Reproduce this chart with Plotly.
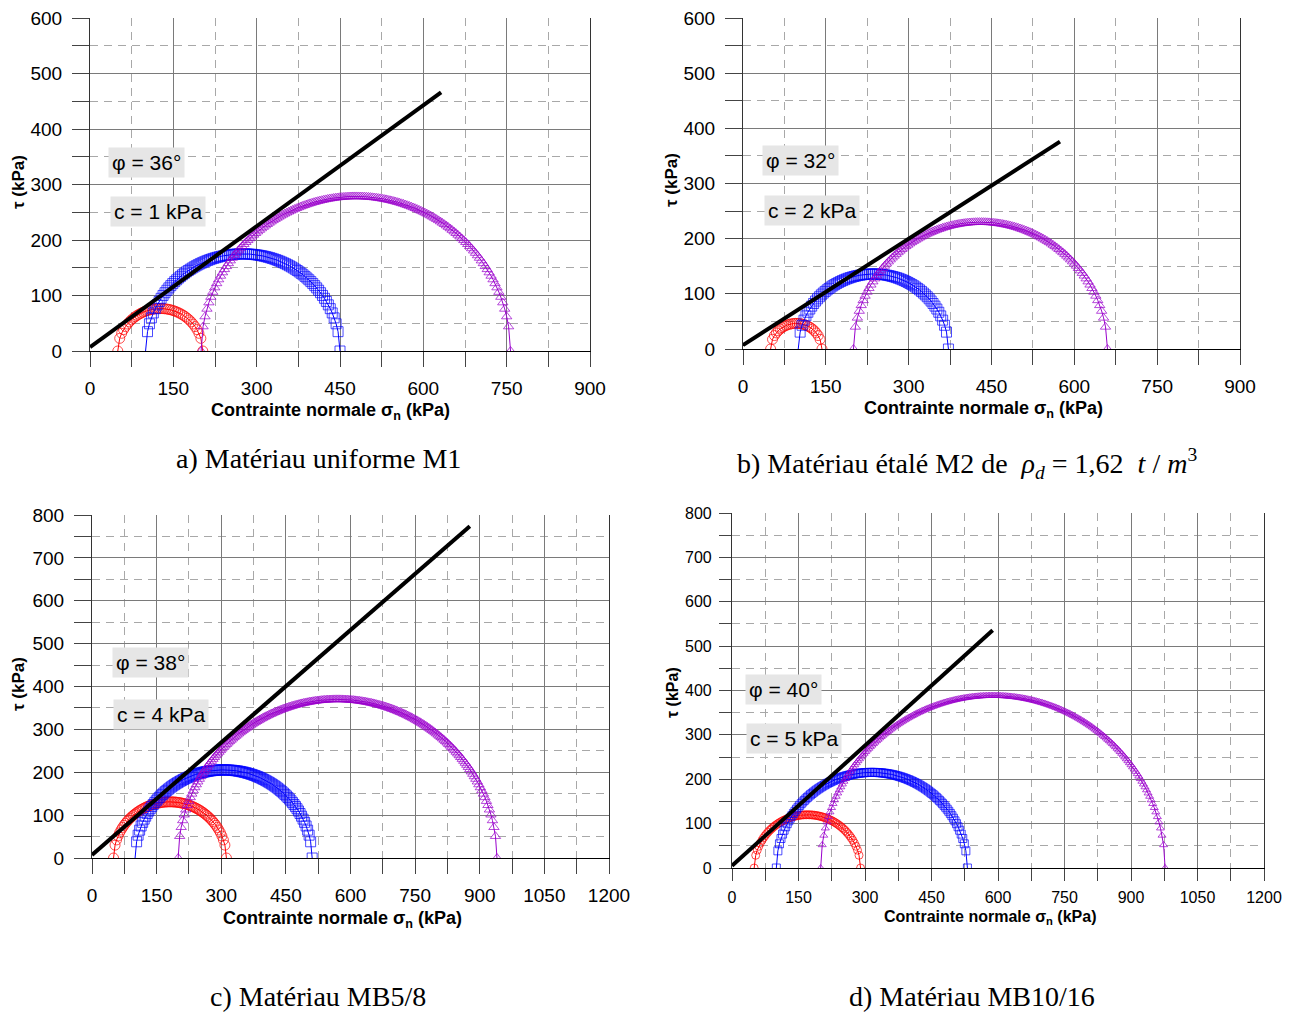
import numpy as np
import plotly.graph_objects as go

# page body has an 8 px margin: the figure is drawn from (8, 8) of the window
OFF = 8
W, H = 1298 - OFF, 1012 - OFF

# ---------------- data ----------------
# Mohr circles: minor / major principal stresses (kPa) for the three tests
sigma3_a = [50, 100, 200]
sigma1_a = [203, 450, 757]
sigma3_b = [50, 100, 200]
sigma1_b = [143, 372, 660]
sigma3_c = [50, 100, 200]
sigma1_c = [312, 511, 940]
sigma3_d = [50, 100, 200]
sigma1_d = [290, 531, 977]

# Coulomb envelope endpoints (sigma_n, tau) in kPa
env_x_a = [0, 632]
env_y_a = [7, 466]
env_x_b = [0, 574]
env_y_b = [7, 376]
env_x_c = [0, 877]
env_y_c = [7, 774]
env_x_d = [0, 588]
env_y_d = [5, 536]

phi_labels = ["φ = 36°", "φ = 32°", "φ = 38°", "φ = 40°"]
c_labels = ["c = 1 kPa", "c = 2 kPa", "c = 4 kPa", "c = 5 kPa"]
captions = [
    "a) Matériau uniforme M1",
    "b) Matériau étalé M2 de  <i>ρ<sub>d</sub></i> = 1,62  <i>t</i> / <i>m</i><sup>3</sup>",
    "c) Matériau MB5/8",
    "d) Matériau MB10/16",
]
x_ranges = [[0, 900], [0, 900], [0, 1200], [0, 1200]]
y_ranges = [[0, 600], [0, 600], [0, 800], [0, 800]]

# ---------------- styling ----------------
colors = ["#ff0000", "#0000ff", "#9a00cc"]
symbols = ["circle-open", "square-open", "triangle-up-open"]
# in panels a, b, c the blue circle has no marker at its left end
no_first_marker = [[False, True, False], [False, True, False],
                   [False, True, False], [False, False, False]]
SANS = "Liberation Sans, Arial, Helvetica, sans-serif"

def px_x(p):
    return (p - OFF) / W

def px_y(p):
    return 1 - (p - OFF) / H

# plot areas in window pixels: (left, right, top, bottom)
areas = [
    (90, 590, 18, 351),
    (743, 1240, 18, 349),
    (92, 609, 515, 858),
    (732, 1264, 513, 868),
]

fig = go.Figure()

panels = [
    (sigma3_a, sigma1_a, env_x_a, env_y_a),
    (sigma3_b, sigma1_b, env_x_b, env_y_b),
    (sigma3_c, sigma1_c, env_x_c, env_y_c),
    (sigma3_d, sigma1_d, env_x_d, env_y_d),
]

STEP = 3.5  # spacing of the plotted points along sigma (kPa)

for i, (s3s, s1s, ex, ey) in enumerate(panels):
    xa = "x" if i == 0 else f"x{i+1}"
    ya = "y" if i == 0 else f"y{i+1}"
    msize = 10 if i < 3 else 8
    for k, (s3, s1) in enumerate(zip(s3s, s1s)):
        n = int(round((s1 - s3) / STEP)) + 1
        sx = np.linspace(s3, s1, n)
        cen = (s1 + s3) / 2
        r = (s1 - s3) / 2
        sy = np.sqrt(np.clip(r * r - (sx - cen) ** 2, 0, None))
        size = msize - (1 if k == 2 else 0)
        sizes = [size] * n
        if no_first_marker[i][k]:
            sizes[0] = 0
        fig.add_trace(go.Scatter(
            x=sx, y=sy, mode="lines+markers", xaxis=xa, yaxis=ya,
            line=dict(color=colors[k], width=1),
            marker=dict(symbol=symbols[k], color=colors[k], size=sizes,
                        line=dict(color=colors[k], width=1)),
            showlegend=False, hoverinfo="x+y",
        ))
    fig.add_trace(go.Scatter(
        x=ex, y=ey, mode="lines", xaxis=xa, yaxis=ya,
        line=dict(color="black", width=4), showlegend=False,
    ))

layout = dict(
    width=W, height=H, autosize=False,
    margin=dict(l=0, r=0, t=0, b=0, pad=0),
    paper_bgcolor="white", plot_bgcolor="white",
    font=dict(family=SANS, color="black"),
)

annotations = []
for i, (l, r, t, b) in enumerate(areas):
    sx = "" if i == 0 else str(i + 1)
    small = i == 3
    tick_font = dict(size=16 if small else 19, family=SANS, color="black")
    tl = 12 if small else 15
    tly = 12 if small else 17
    layout["xaxis" + sx] = dict(
        domain=[px_x(l), px_x(r)], anchor="y" + sx, range=x_ranges[i],
        dtick=150, tick0=0, ticks="outside", ticklen=tl, tickcolor="#444",
        ticklabelstandoff=3 if small else 5, ticklabeloverflow="allow",
        showline=True, linecolor="black", linewidth=1.2, mirror=False,
        showgrid=True, gridcolor="#7a7a7a", gridwidth=1, zeroline=False,
        tickfont=tick_font, automargin=False,
        minor=dict(dtick=75, tick0=0, ticks="outside", ticklen=tl, tickcolor="#444",
                   showgrid=True, gridcolor="#a8a8a8", griddash="8px,6px", gridwidth=1),
        fixedrange=True,
    )
    layout["yaxis" + sx] = dict(
        domain=[px_y(b), px_y(t)], anchor="x" + sx, range=y_ranges[i],
        dtick=100, tick0=0, ticks="outside", ticklen=tly, tickcolor="#444",
        ticklabelstandoff=4 if small else 6, ticklabeloverflow="allow",
        showline=True, linecolor="#333", linewidth=1.2, mirror=True,
        showgrid=True, gridcolor="#7a7a7a", gridwidth=1, zeroline=False,
        tickfont=tick_font, automargin=False,
        minor=dict(dtick=50, tick0=0, ticks="outside", ticklen=tly, tickcolor="#444",
                   showgrid=True, gridcolor="#a8a8a8", griddash="8px,6px", gridwidth=1),
        fixedrange=True,
    )

# axis titles (placed as annotations for exact position)
xt_pos = [(330, 411), (983, 409), (342, 919), (990, 917)]
yt_pos = [(18, 182), (672, 180), (18, 684), (672, 693)]
for i in range(4):
    small = i == 3
    annotations.append(dict(
        text="<b>Contrainte normale σ<sub>n</sub> (kPa)</b>", xref="paper", yref="paper",
        x=px_x(xt_pos[i][0]), y=px_y(xt_pos[i][1]), xanchor="center", yanchor="middle",
        showarrow=False, font=dict(size=16 if small else 18, family=SANS),
    ))
    annotations.append(dict(
        text="<b>τ (kPa)</b>", xref="paper", yref="paper", textangle=-90,
        x=px_x(yt_pos[i][0]), y=px_y(yt_pos[i][1]), xanchor="center", yanchor="middle",
        showarrow=False, font=dict(size=16 if small else 17, family=SANS),
    ))

# phi / c boxes
phi_pos = [(108, 147), (762, 145), (112, 647), (745, 674)]
c_pos = [(110, 196), (764, 195), (113, 699), (746, 723)]
for i in range(4):
    for txt, (px, py) in ((phi_labels[i], phi_pos[i]), (c_labels[i], c_pos[i])):
        annotations.append(dict(
            text=txt, xref="paper", yref="paper", x=px_x(px), y=px_y(py),
            xanchor="left", yanchor="top", showarrow=False,
            bgcolor="#e6e6e6", borderpad=3,
            font=dict(size=21, family=SANS, color="black"),
        ))

# captions
cap_pos = [(318, 458), (967, 463), (318, 996), (972, 996)]
for i in range(4):
    annotations.append(dict(
        text=captions[i], xref="paper", yref="paper",
        x=px_x(cap_pos[i][0]), y=px_y(cap_pos[i][1]), xanchor="center", yanchor="middle",
        showarrow=False, font=dict(size=28, family="Liberation Serif, Times New Roman, serif", color="black"),
    ))

layout["annotations"] = annotations
fig.update_layout(**layout)
fig.write_html("out.html")
